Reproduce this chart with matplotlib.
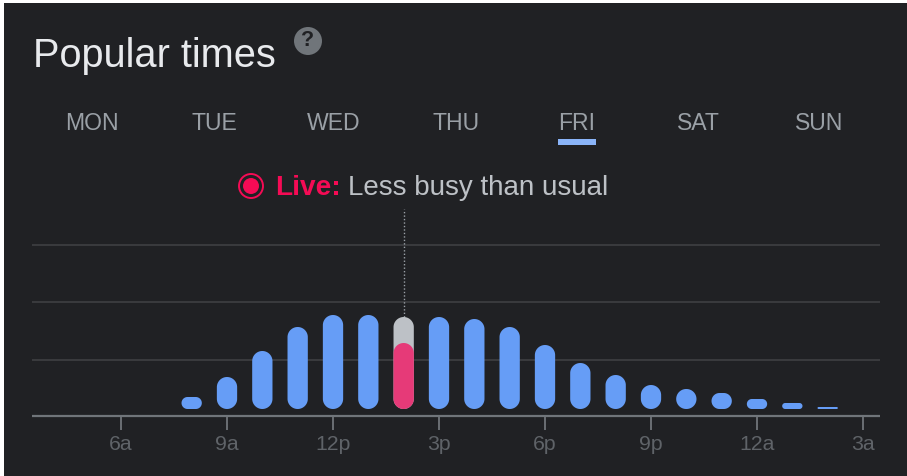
""" Popular times chart for a Friday, dark theme. """

from matplotlib import pyplot as plt
from matplotlib.patches import Circle, Rectangle
import numpy

W, H = 907, 476

# Busyness, in bar pixels above the baseline
hours = [8, 9, 10, 11, 12, 13, 14, 15, 16, 17, 18, 19, 20, 21, 22, 23, 24, 25, 26]
busy = [12, 32, 58, 82, 94, 94, 92, 92, 90, 82, 64, 46, 34, 24, 20, 16, 10, 6, 2]
live_hour = 14
live_value = 66

tick_hours = [6, 9, 12, 15, 18, 21, 24, 27]
tick_labels = ["6a", "9a", "12p", "3p", "6p", "9p", "12a", "3a"]
grid_levels = [49, 107, 164]

days = ["MON", "TUE", "WED", "THU", "FRI", "SAT", "SUN"]
day_x = [92, 214, 334, 456, 577, 698, 819]
active_day = "FRI"

BG = "#202124"
BLUE = "#669df6"
PINK = "#e63a78"
RED = "#f50b55"
GREY = "#bdc1c6"
TAB = "#9aa0a6"
TICK = "#5f6368"
AXIS = "#70757a"
GRID = "#3a3b3e"

PX_PER_HOUR = 742 / 21
BAR_PX = 20.3


def pill(ax, hour, height, color, zorder=3):
    """ Bar with fully rounded ends, radius limited by its height """
    half = BAR_PX / 2
    r = min(half, height / 2)
    t = numpy.linspace(0, numpy.pi / 2, 24)
    # Corner arcs, going round the bar from top right, in pixels
    xs = numpy.concatenate([
        half - r + r * numpy.cos(t),
        -half + r - r * numpy.sin(t),
        -half + r - r * numpy.cos(t),
        half - r + r * numpy.sin(t),
    ])
    ys = numpy.concatenate([
        height - r + r * numpy.sin(t),
        height - r + r * numpy.cos(t),
        r - r * numpy.sin(t),
        r - r * numpy.cos(t),
    ])
    ax.fill(hour + xs / PX_PER_HOUR, ys, color=color, lw=0, zorder=zorder)


def main() -> None:
    """ Build the figure """
    plt.rcParams["font.family"] = ["Liberation Sans", "DejaVu Sans"]

    fig = plt.figure(figsize=(W / 100, H / 100), dpi=100, facecolor="white")

    # Card background and header, in pixel coordinates
    card = fig.add_axes([0, 0, 1, 1])
    card.set_xlim(0, W)
    card.set_ylim(H, 0)
    card.axis("off")
    card.add_patch(Rectangle((4, 3), W, H, color=BG, lw=0))

    card.text(33, 56, "Popular times", color="#e8eaed", fontsize=28.6,
              ha="left", va="center")
    card.add_patch(Circle((308, 41), 14, color=AXIS, lw=0))
    card.text(308, 41, "?", color=BG, fontsize=15.5, fontweight="bold",
              ha="center", va="center")

    for name, x in zip(days, day_x):
        card.text(x, 123, name, color=TAB, fontsize=16.6, ha="center", va="center")
        if name == active_day:
            card.add_patch(Rectangle((x - 19, 139), 38, 6, color="#8ab4f8", lw=0))

    card.add_patch(Circle((251, 186), 12, fc="none", ec=RED, lw=1.4))
    card.add_patch(Circle((251, 186), 8, color=RED, lw=0))
    card.text(275, 188, "Live:", color=RED, fontsize=20.2, fontweight="bold",
              ha="left", va="center")
    card.text(348, 188, "Less busy than usual", color=GREY, fontsize=20,
              ha="left", va="center")

    # Chart, 245 to 416 px down and 32 to 880 px across
    ax = fig.add_axes([32 / W, 1 - 416 / H, 848 / W, 171 / H])
    ax.patch.set_alpha(0)
    ax.set_xlim(6 - 89 / PX_PER_HOUR, 6 + 759 / PX_PER_HOUR)
    ax.set_ylim(-7, 164)

    for spine in ["top", "left", "right"]:
        ax.spines[spine].set_visible(False)
    ax.spines["bottom"].set_color(AXIS)
    ax.spines["bottom"].set_linewidth(1.6)
    ax.spines["bottom"].set_capstyle("butt")

    ax.set_yticks(grid_levels)
    ax.tick_params(axis="y", length=0, labelleft=False)
    ax.yaxis.grid(True, color=GRID, lw=1.4, zorder=1, clip_on=False,
                  solid_capstyle="butt")
    ax.set_axisbelow(True)

    ax.set_xticks(tick_hours, tick_labels)
    ax.tick_params(axis="x", length=10, width=1.3, color=AXIS, labelcolor=TICK,
                   labelsize=15.3, pad=4)

    for hour, value in zip(hours, busy):
        if hour == live_hour:
            pill(ax, hour, value, GREY)
            pill(ax, hour, live_value, PINK, zorder=4)
            ax.plot([hour, hour], [value, 200], color="#9aa0a6", lw=1,
                    ls=(0, (1, 1.5)), clip_on=False, zorder=2)
        else:
            pill(ax, hour, value, BLUE)

    fig.savefig("out.png", dpi=100, facecolor=fig.get_facecolor())


if __name__ == "__main__":
    main()
